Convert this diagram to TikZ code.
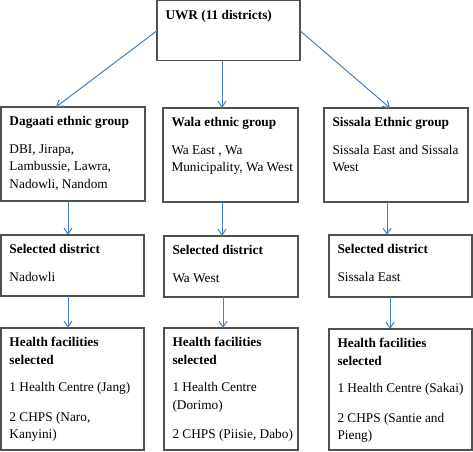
\documentclass[tikz,border=0pt]{standalone}
\usepackage{fontspec}
\setmainfont{Liberation Serif}
\usetikzlibrary{arrows.meta}
\definecolor{arrowblue}{RGB}{74,126,187}
\definecolor{boxgray}{RGB}{80,80,80}

\begin{document}
\begin{tikzpicture}[x=1pt,y=-1pt,
	stage/.style 2 args={draw=boxgray, line width=1.1pt, anchor=north west, inner sep=0pt, outer sep=0pt,
		execute at begin node={\begin{minipage}[t][#2pt][t]{#1pt}\raggedright\leftskip=8.5pt\fontsize{13.3}{17.3}\selectfont\vspace*{9.5pt}},
		execute at end node={\end{minipage}}},
	flow/.style={color=arrowblue, line width=1pt, -{Straight Barb[length=6pt,width=8pt]}}]
			\useasboundingbox (0,0) rectangle (473,451);
			\node[stage={143}{60}] (uwr) at (157,0.7) {\textbf{UWR (11 districts)}};
			\node[stage={144}{94}] (dagaati) at (1,107) {\textbf{Dagaati ethnic group}\\[10.5pt] DBI, Jirapa,\\ Lambussie, Lawra,\\ Nadowli, Nandom};
			\node[stage={135}{94}] (wala) at (163,108) {\textbf{Wala ethnic group}\\[10.5pt] Wa East , Wa\\ Municipality, Wa West};
			\node[stage={144}{94}] (sissala) at (324,108) {\textbf{Sissala Ethnic group}\\[10.5pt] Sissala East and Sissala\\ West};
			\node[stage={143}{61}] (nadowli) at (1,235) {\textbf{Selected district}\\[10.5pt] Nadowli};
			\node[stage={134}{61}] (wawest) at (164,236) {\textbf{Selected district}\\[10.5pt] Wa West};
			\node[stage={143}{62}] (sisEast) at (329,235) {\textbf{Selected district}\\[10.5pt] Sissala East};
			\node[stage={143}{122}] (hfNadowli) at (1,328) {\textbf{Health facilities\\ selected}\\[10.5pt] 1 Health Centre (Jang)\\[12pt] 2 CHPS (Naro,\\ Kanyini)};
			\node[stage={134}{122}] (hfWaWest) at (164,328) {\textbf{Health facilities\\ selected}\\[10.5pt] 1 Health Centre\\ (Dorimo)\\[12pt] 2 CHPS (Piisie, Dabo)};
			\node[stage={143}{121}] (hfSisEast) at (329,329) {\textbf{Health facilities\\ selected}\\[10.5pt] 1 Health Centre (Sakai)\\[12pt] 2 CHPS (Santie and\\ Pieng)};
			\path[flow]
			(uwr.west) edge ([xshift=-17pt]dagaati.north)
			([xshift=-6.5pt]uwr.south) edge ([xshift=-6.5pt]uwr.south |- wala.north)
			(uwr.east) edge ([xshift=-6pt]sissala.north)
			([xshift=-5pt]dagaati.south) edge ([xshift=-5pt]dagaati.south |- nadowli.north)
			([xshift=-8.5pt]wala.south) edge ([xshift=-8.5pt]wala.south |- wawest.north)
			([xshift=-9pt]sissala.south) edge ([xshift=-9pt]sissala.south |- sisEast.north)
			([xshift=-4.5pt]nadowli.south) edge ([xshift=-4.5pt]nadowli.south |- hfNadowli.north)
			([xshift=-8pt]wawest.south) edge ([xshift=-8pt]wawest.south |- hfWaWest.north)
			([xshift=-10.5pt]sisEast.south) edge ([xshift=-10.5pt]sisEast.south |- hfSisEast.north);
		\end{tikzpicture}
\end{document}
